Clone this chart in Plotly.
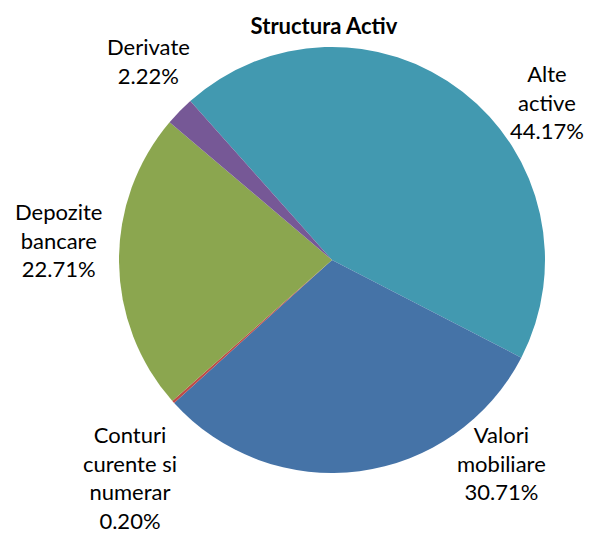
import plotly.graph_objects as go

labels = ["Alte<br>active", "Valori<br>mobiliare", "Conturi<br>curente si<br>numerar", "Depozite<br>bancare", "Derivate"]
values = [44.17, 30.71, 0.20, 22.71, 2.22]
colors = ["#4299B0", "#4573A7", "#BE4B48", "#8BA64F", "#765896"]

W, H = 590, 538
cx, cy, r = 332, 260, 213
# label centre positions (pixels from top-left), layout only
label_pos = [(547, 102), (501, 463), (130, 477), (58, 240), (148, 61)]

fig = go.Figure(go.Pie(
    labels=labels, values=values, sort=False, direction="clockwise", rotation=-41.7,
    marker=dict(colors=colors, line=dict(width=0)),
    textinfo="none", showlegend=False, hoverinfo="label+value",
    domain=dict(x=[(cx - r) / W, (cx + r) / W], y=[1 - (cy + r) / H, 1 - (cy - r) / H]),
    automargin=False,
))
for lab, val, (px, py) in zip(labels, values, label_pos):
    fig.add_annotation(
        text=f"{lab}<br>{val:.2f}%", x=px / W, y=1 - py / H, xref="paper", yref="paper",
        xanchor="center", yanchor="middle", align="center", showarrow=False,
        borderpad=0, font=dict(family="Lato", size=22, color="#000000"),
    )
fig.update_layout(
    width=W, height=H, margin=dict(l=0, r=0, t=0, b=0),
    paper_bgcolor="white", plot_bgcolor="white",
    title=dict(text="<b>Structura Activ</b>", x=324 / W, xanchor="center", y=1 - 26 / H, yanchor="middle",
               font=dict(family="Lato", size=22, color="#000000")),
)
fig.write_html("out.html", config={"displayModeBar": False},
               post_script="document.body.style.margin='0';document.body.style.overflow='hidden';")
